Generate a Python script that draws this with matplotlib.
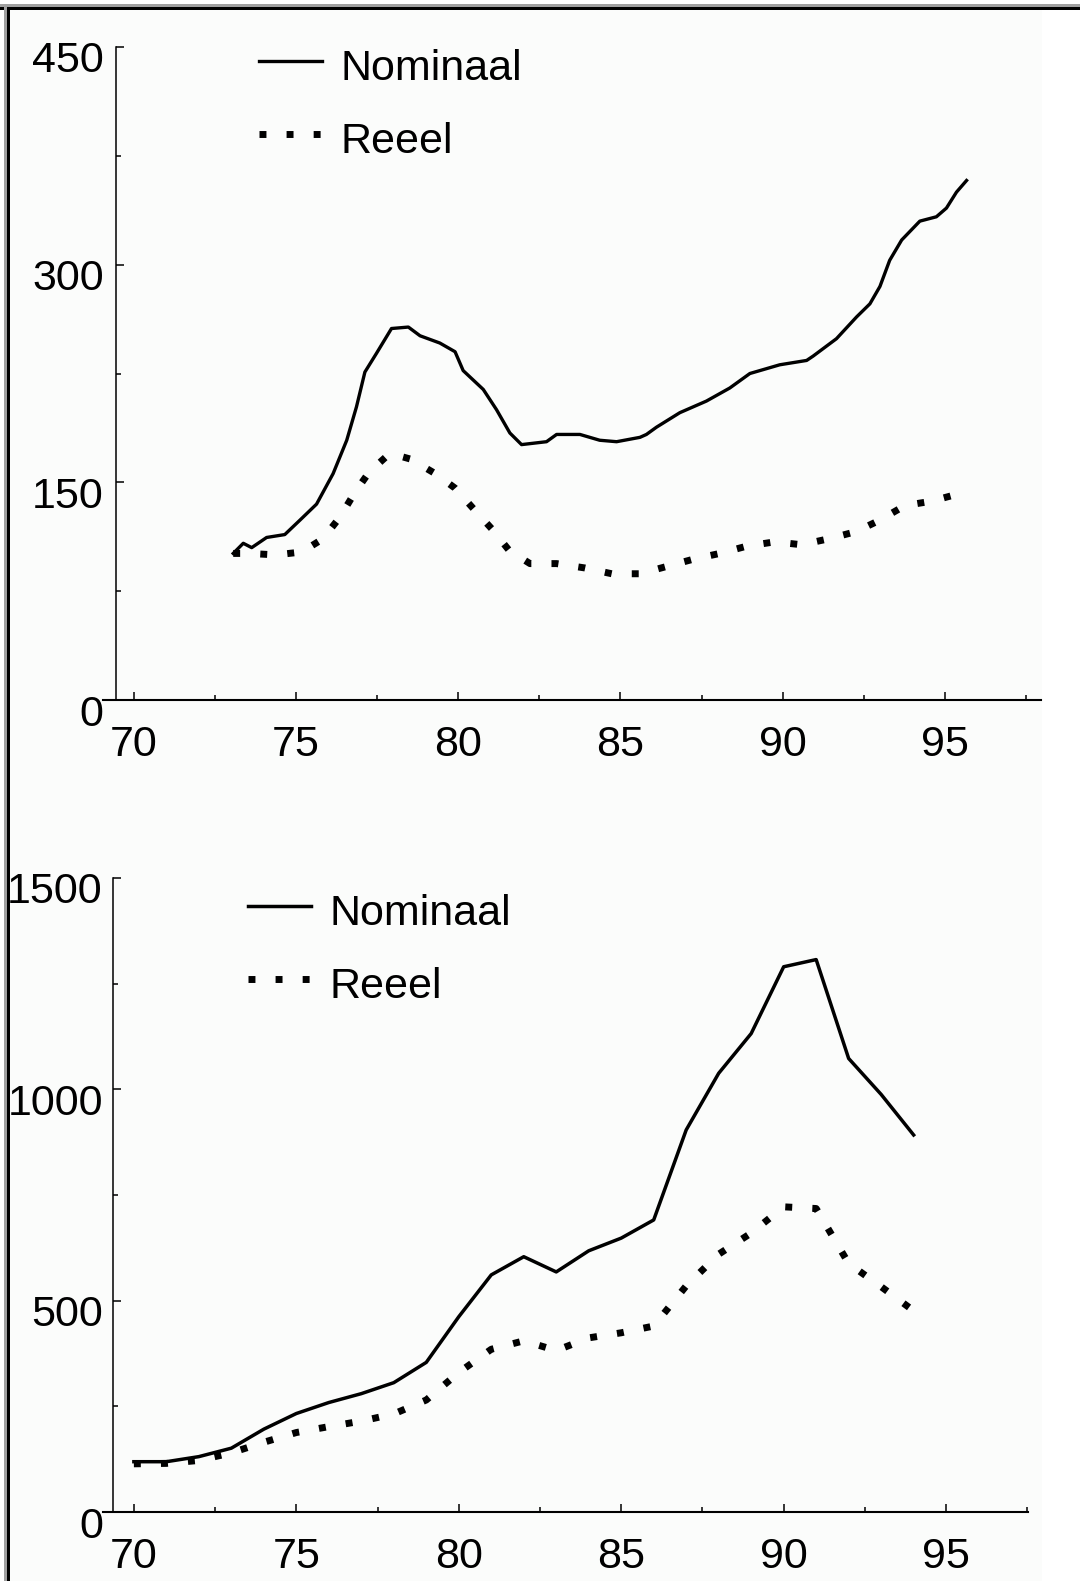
import matplotlib.pyplot as plt
from matplotlib.patches import Rectangle
from matplotlib.ticker import MultipleLocator
from matplotlib.transforms import ScaledTranslation

plt.rcParams['font.family'] = ['Liberation Sans', 'DejaVu Sans']

# bovenste paneel: Nominaal (maandcijfers) en Reeel
top_nom_x = [73.06, 73.37, 73.63, 74.09, 74.65, 75.12, 75.63, 76.14, 76.56, 76.86,
             77.12, 77.48, 77.94, 78.46, 78.82, 79.43, 79.9, 80.15, 80.77, 81.18,
             81.59, 81.95, 82.72, 83.03, 83.75, 84.36, 84.88, 85.6, 85.8, 86.11,
             86.83, 87.65, 88.37, 88.99, 89.91, 90.74, 90.94, 91.66, 92.28, 92.69,
             93.0, 93.3, 93.67, 94.23, 94.74, 95.05, 95.36, 95.67]
top_nom_y = [101, 108, 105, 112, 114, 124, 135, 156, 179, 202,
             226, 239, 256, 257, 251, 246, 240, 227, 214, 200,
             184, 176, 178, 183, 183, 179, 178, 181, 183, 188,
             198, 206, 215, 225, 231, 234, 237, 249, 264, 273,
             285, 303, 317, 330, 333, 339, 350, 358]

top_real_x = [73.06, 73.55, 74.38, 75.17, 75.82, 76.35, 76.81, 77.25, 77.89, 78.53,
              79.29, 79.9, 80.46, 81.03, 81.57, 82.21, 83.03, 83.9, 84.73, 85.6,
              86.42, 87.24, 88.06, 88.89, 89.76, 90.58, 91.4, 92.26, 93.0, 93.77,
              94.59, 95.41]
top_real_y = [101, 101, 100, 102, 111, 126, 143, 157, 170, 166,
              156, 146, 132, 118, 103, 94, 94, 91, 87, 87,
              92, 97, 101, 106, 109, 107, 111, 116, 124, 134,
              137, 142]

# onderste paneel: jaarcijfers 1970-1994
bot_years = list(range(70, 95))
bot_nom = [119, 119, 131, 151, 196, 233, 259, 280, 306, 354, 462, 561, 604,
           568, 618, 648, 691, 904, 1038, 1132, 1290, 1307, 1073, 988, 892]
bot_real = [114, 115, 122, 140, 165, 188, 202, 215, 232, 265, 330, 385, 405,
            382, 412, 424, 440, 535, 610, 660, 722, 718, 588, 533, 476]

labels = ['Nominaal', 'Reeel']
FS = 31
DOTS = (0, (1, 2.9))

fig = plt.figure(figsize=(10.8, 15.81), dpi=100)
fig.patch.set_facecolor('white')

# lichte achtergrond zoals in het origineel
fig.patches.append(Rectangle((10 / 1080, 0), 1032 / 1080, 1 - 10 / 1581,
                             transform=fig.transFigure, facecolor='#fbfcfb',
                             edgecolor='none', zorder=-5))


def style_axes(ax, xlim, spine_x, ymax, ystep, ypad):
    ax.set_facecolor('none')
    ax.set_xlim(*xlim)
    ax.set_ylim(0, ymax)
    for side in ['top', 'right']:
        ax.spines[side].set_visible(False)
    ax.spines['left'].set_position(('data', spine_x))
    ax.spines['left'].set_linewidth(1.1)
    ax.spines['bottom'].set_linewidth(1.5)
    ax.xaxis.set_major_locator(MultipleLocator(5))
    ax.xaxis.set_minor_locator(MultipleLocator(2.5))
    ax.yaxis.set_major_locator(MultipleLocator(ystep))
    ax.yaxis.set_minor_locator(MultipleLocator(ystep / 2))
    ax.tick_params(which='both', direction='in', width=1.1, labelsize=FS)
    ax.tick_params(which='major', length=5.8)
    ax.tick_params(which='minor', length=3.6)
    ax.tick_params(axis='x', pad=18)
    ax.tick_params(axis='y', pad=ypad)
    shift = ScaledTranslation(0, -0.10, fig.dpi_scale_trans)
    for lbl in ax.get_yticklabels():
        lbl.set_transform(lbl.get_transform() + shift)


def add_legend(ax, left_px, top_px):
    ax.legend(loc='upper left',
              bbox_to_anchor=(left_px / 1080, 1 - top_px / 1581),
              bbox_transform=fig.transFigure, frameon=False, fontsize=FS,
              handlelength=1.46, handleheight=1.28, handletextpad=0.44,
              labelspacing=0.62, borderpad=0, borderaxespad=0)


ax1 = fig.add_axes([102.5 / 1080, 1 - 700 / 1581, 938 / 1080, 653 / 1581])
ax1.plot(top_nom_x, top_nom_y, color='black', lw=2.4, label=labels[0])
ax1.plot(top_real_x, top_real_y, color='black', lw=5, linestyle=DOTS,
         label=labels[1])
style_axes(ax1, (69.03, 97.95), 69.45, 450, 150, 9)
add_legend(ax1, 259, 42)

ax2 = fig.add_axes([103 / 1080, 1 - 1512 / 1581, 925 / 1080, 634 / 1581])
ax2.plot(bot_years, bot_nom, color='black', lw=2.5, label=labels[0])
ax2.plot(bot_years, bot_real, color='black', lw=5, linestyle=DOTS,
         label=labels[1])
style_axes(ax2, (69.05, 97.52), 69.37, 1500, 500, 7.6)
add_legend(ax2, 248, 887)

# kaderlijnen boven en links: (x, y, breedte, hoogte) in pixels
frame = [(0, 1574, 1080, 3, '#a0a0a0'),
         (0, 1571, 1080, 3, 'black'),
         (4, 0, 3, 1577, '#a0a0a0'),
         (7, 0, 3, 1574, 'black')]
for x0, y0, w, h, col in frame:
    fig.add_artist(Rectangle((x0 / 1080, y0 / 1581), w / 1080, h / 1581,
                             transform=fig.transFigure, facecolor=col,
                             edgecolor='none', zorder=10))

fig.savefig('out.png', dpi=100)
